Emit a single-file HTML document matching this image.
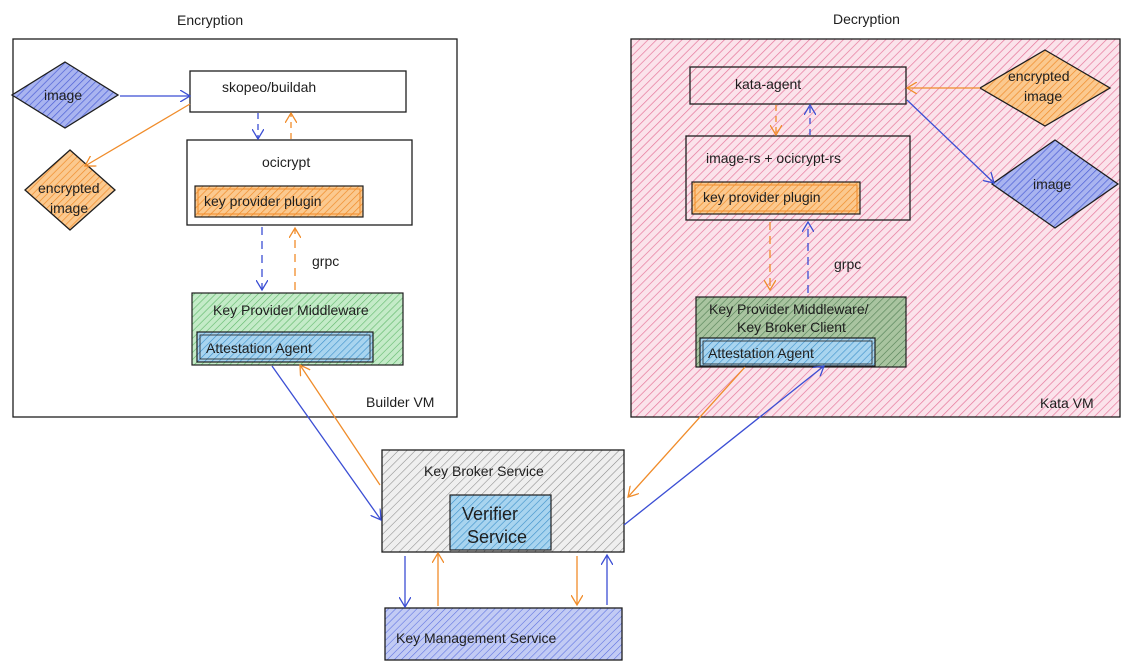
<!DOCTYPE html>
<html><head><meta charset="utf-8"><style>
html,body{margin:0;padding:0;background:#fff;}
svg{display:block;font-family:"Liberation Sans",sans-serif;}
text{fill:#1e1e1e;font-size:14px;}
</style></head><body>
<svg width="1132" height="669" viewBox="0 0 1132 669" xmlns="http://www.w3.org/2000/svg">
<defs>
<pattern id="pink" width="6" height="6" patternUnits="userSpaceOnUse" patternTransform="rotate(45)"><rect width="6" height="6" fill="#fbe3eb"/><line x1="0" y1="0" x2="0" y2="6" stroke="#e6779b" stroke-width="1.4"/></pattern>
<pattern id="blue" width="5" height="5" patternUnits="userSpaceOnUse" patternTransform="rotate(45)"><rect width="5" height="5" fill="#a9b4f0"/><line x1="0" y1="0" x2="0" y2="5" stroke="#4c5fd6" stroke-width="1.4"/></pattern>
<pattern id="orange" width="5" height="5" patternUnits="userSpaceOnUse" patternTransform="rotate(45)"><rect width="5" height="5" fill="#fbc98f"/><line x1="0" y1="0" x2="0" y2="5" stroke="#f08c2a" stroke-width="1.4"/></pattern>
<pattern id="green" width="5" height="5" patternUnits="userSpaceOnUse" patternTransform="rotate(45)"><rect width="5" height="5" fill="#c4ebc8"/><line x1="0" y1="0" x2="0" y2="5" stroke="#5fb86a" stroke-width="1.2"/></pattern>
<pattern id="green2" width="5" height="5" patternUnits="userSpaceOnUse" patternTransform="rotate(45)"><rect width="5" height="5" fill="#a9c4a0"/><line x1="0" y1="0" x2="0" y2="5" stroke="#4f7d52" stroke-width="1.2"/></pattern>
<pattern id="cyan" width="5" height="5" patternUnits="userSpaceOnUse" patternTransform="rotate(45)"><rect width="5" height="5" fill="#a8d4ef"/><line x1="0" y1="0" x2="0" y2="5" stroke="#3b8fc9" stroke-width="1.2"/></pattern>
<pattern id="gray" width="6" height="6" patternUnits="userSpaceOnUse" patternTransform="rotate(45)"><rect width="6" height="6" fill="#efefef"/><line x1="0" y1="0" x2="0" y2="6" stroke="#8a8a8a" stroke-width="1.1"/></pattern>
<pattern id="kms" width="5" height="5" patternUnits="userSpaceOnUse" patternTransform="rotate(45)"><rect width="5" height="5" fill="#c2cbf4"/><line x1="0" y1="0" x2="0" y2="5" stroke="#5a6ee0" stroke-width="1.1"/></pattern>
<marker id="ab" markerWidth="12" markerHeight="12" refX="10" refY="6" orient="auto" markerUnits="userSpaceOnUse"><path d="M0,0 L10,6 L0,12" fill="none" stroke="#3b4ed4" stroke-width="1.3"/></marker>
<marker id="ao" markerWidth="12" markerHeight="12" refX="10" refY="6" orient="auto" markerUnits="userSpaceOnUse"><path d="M0,0 L10,6 L0,12" fill="none" stroke="#f08c2a" stroke-width="1.3"/></marker>
</defs>

<text x="177" y="25">Encryption</text>
<text x="833" y="24">Decryption</text>

<rect x="13" y="39" width="444" height="378" fill="#fff" stroke="#1e1e1e" stroke-width="1.3"/>
<text x="366" y="407">Builder VM</text>
<rect x="631" y="39" width="489" height="378" fill="url(#pink)" stroke="#1e1e1e" stroke-width="1.3"/>
<text x="1040" y="408">Kata VM</text>

<polygon points="65,62 118,95 65,128 12,95" fill="url(#blue)" stroke="#1e1e1e" stroke-width="1.3"/>
<text x="44" y="100">image</text>
<polygon points="70,150 115,190 70,230 25,190" fill="url(#orange)" stroke="#1e1e1e" stroke-width="1.3"/>
<text x="38" y="193">encrypted</text><text x="50" y="213">image</text>

<rect x="190" y="71" width="216" height="41" fill="#fff" stroke="#1e1e1e" stroke-width="1.3"/>
<text x="222" y="92">skopeo/buildah</text>
<rect x="187" y="140" width="225" height="85" fill="#fff" stroke="#1e1e1e" stroke-width="1.3"/>
<text x="262" y="167">ocicrypt</text>
<rect x="195" y="186" width="168" height="31" fill="url(#orange)" stroke="#1e1e1e" stroke-width="1.2"/>
<rect x="198" y="189" width="162" height="25" fill="none" stroke="#f08c2a" stroke-width="1"/>
<text x="204" y="206">key provider plugin</text>
<text x="312" y="266">grpc</text>

<rect x="192" y="293" width="211" height="72" fill="url(#green)" stroke="#1e1e1e" stroke-width="1.2"/>
<text x="213" y="315">Key Provider Middleware</text>
<rect x="197" y="332" width="176" height="30" fill="url(#cyan)" stroke="#1e1e1e" stroke-width="1.2"/>
<rect x="200" y="335" width="170" height="24" fill="none" stroke="#1e1e1e" stroke-width="0.8"/>
<text x="206" y="353">Attestation Agent</text>

<rect x="690" y="67" width="216" height="37" fill="url(#pink)" stroke="#1e1e1e" stroke-width="1.3"/>
<text x="735" y="89">kata-agent</text>
<polygon points="1045,50 1110,88 1045,126 980,88" fill="url(#orange)" stroke="#1e1e1e" stroke-width="1.3"/>
<text x="1008" y="81">encrypted</text><text x="1024" y="101">image</text>
<polygon points="1055,140 1118,184 1055,228 992,184" fill="url(#blue)" stroke="#1e1e1e" stroke-width="1.3"/>
<text x="1033" y="189">image</text>

<rect x="686" y="136" width="224" height="84" fill="url(#pink)" stroke="#1e1e1e" stroke-width="1.3"/>
<text x="706" y="163">image-rs + ocicrypt-rs</text>
<rect x="692" y="182" width="168" height="32" fill="url(#orange)" stroke="#1e1e1e" stroke-width="1.2"/>
<rect x="695" y="185" width="162" height="26" fill="none" stroke="#f08c2a" stroke-width="1"/>
<text x="703" y="202">key provider plugin</text>
<text x="834" y="269">grpc</text>

<rect x="696" y="297" width="210" height="70" fill="url(#green2)" stroke="#1e1e1e" stroke-width="1.2"/>
<text x="709" y="314">Key Provider Middleware/</text>
<text x="737" y="332">Key Broker Client</text>
<rect x="700" y="338" width="175" height="28" fill="url(#cyan)" stroke="#1e1e1e" stroke-width="1.2"/>
<rect x="703" y="341" width="169" height="23" fill="none" stroke="#1e1e1e" stroke-width="0.8"/>
<text x="708" y="358">Attestation Agent</text>

<rect x="382" y="450" width="242" height="102" fill="url(#gray)" stroke="#1e1e1e" stroke-width="1.3"/>
<text x="424" y="476">Key Broker Service</text>
<rect x="450" y="495" width="101" height="55" fill="url(#cyan)" stroke="#1e1e1e" stroke-width="1.2"/>
<text x="462" y="520" style="font-size:18px">Verifier</text>
<text x="467" y="543" style="font-size:18px">Service</text>
<rect x="385" y="608" width="237" height="52" fill="url(#kms)" stroke="#1e1e1e" stroke-width="1.3"/>
<text x="396" y="643">Key Management Service</text>

<g fill="none" stroke-width="1.3">
<path d="M120,96 L190,96" stroke="#3b4ed4" marker-end="url(#ab)"/>
<path d="M190,104 L85,166" stroke="#f08c2a" marker-end="url(#ao)"/>
<path d="M258,113 L258,139" stroke="#3b4ed4" stroke-dasharray="6,5" marker-end="url(#ab)"/>
<path d="M291,139 L291,113" stroke="#f08c2a" stroke-dasharray="6,5" marker-end="url(#ao)"/>
<path d="M262,227 L262,290" stroke="#3b4ed4" stroke-dasharray="8,6" marker-end="url(#ab)"/>
<path d="M295,290 L295,228" stroke="#f08c2a" stroke-dasharray="8,6" marker-end="url(#ao)"/>
<path d="M272,366 L381,520" stroke="#3b4ed4" marker-end="url(#ab)"/>
<path d="M380,485 L300,365" stroke="#f08c2a" marker-end="url(#ao)"/>

<path d="M980,88 L907,88" stroke="#f08c2a" marker-end="url(#ao)"/>
<path d="M907,100 L994,183" stroke="#3b4ed4" marker-end="url(#ab)"/>
<path d="M776,105 L776,135" stroke="#f08c2a" stroke-dasharray="6,5" marker-end="url(#ao)"/>
<path d="M810,135 L810,105" stroke="#3b4ed4" stroke-dasharray="6,5" marker-end="url(#ab)"/>
<path d="M770,222 L770,290" stroke="#f08c2a" stroke-dasharray="8,6" marker-end="url(#ao)"/>
<path d="M808,293 L808,222" stroke="#3b4ed4" stroke-dasharray="8,6" marker-end="url(#ab)"/>
<path d="M745,367 L628,497" stroke="#f08c2a" marker-end="url(#ao)"/>
<path d="M624,525 L824,366" stroke="#3b4ed4" marker-end="url(#ab)"/>

<path d="M405,556 L405,607" stroke="#3b4ed4" marker-end="url(#ab)"/>
<path d="M438,606 L438,553" stroke="#f08c2a" marker-end="url(#ao)"/>
<path d="M577,556 L577,605" stroke="#f08c2a" marker-end="url(#ao)"/>
<path d="M607,605 L607,555" stroke="#3b4ed4" marker-end="url(#ab)"/>
</g>
</svg>
</body></html>
